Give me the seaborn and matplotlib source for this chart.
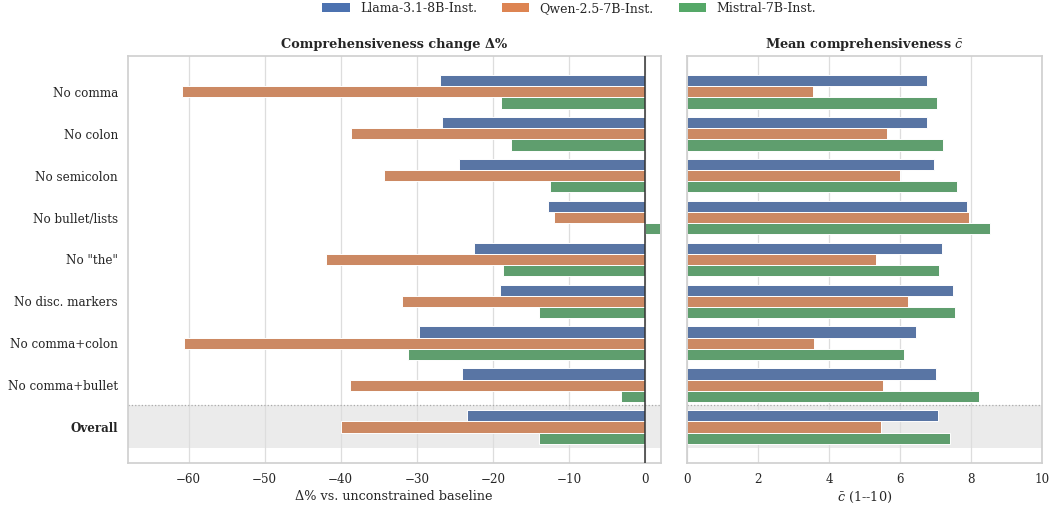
import numpy as np
import pandas as pd
import matplotlib
matplotlib.use("Agg")
import matplotlib.pyplot as plt
from matplotlib.patches import Patch
import seaborn as sns

categories = ["No comma", "No colon", "No semicolon", "No bullet/lists", 'No "the"',
              "No disc. markers", "No comma+colon", "No comma+bullet", "Overall"]
models = ["Llama-3.1-8B-Inst.", "Qwen-2.5-7B-Inst.", "Mistral-7B-Inst."]

delta_llama = [-26.9, -26.7, -24.4, -12.8, -22.5, -19.1, -29.7, -24.1, -23.4]
delta_qwen = [-60.8, -38.6, -34.3, -12.0, -42.0, -31.9, -60.6, -38.8, -39.9]
delta_mistral = [-18.9, -17.6, -12.5, 2.0, -18.7, -14.0, -31.1, -3.1, -14.0]

mean_llama = [6.74, 6.74, 6.95, 7.88, 7.17, 7.48, 6.45, 7.02, 7.05]
mean_qwen = [3.54, 5.62, 5.99, 7.95, 5.31, 6.21, 3.56, 5.51, 5.46]
mean_mistral = [7.03, 7.20, 7.59, 8.54, 7.09, 7.54, 6.10, 8.23, 7.40]

delta_ticks = [-60, -50, -40, -30, -20, -10, 0]
mean_ticks = [0, 2, 4, 6, 8, 10]

rows = []
for m, d, c in zip(models, [delta_llama, delta_qwen, delta_mistral],
                   [mean_llama, mean_qwen, mean_mistral]):
    for cat, dv, cv in zip(categories, d, c):
        rows.append({"constraint": cat, "model": m, "delta": dv, "mean": cv})
df = pd.DataFrame(rows)

sns.set_theme(style="whitegrid")
plt.rcParams["font.family"] = ["DejaVu Serif"]
plt.rcParams["mathtext.fontset"] = "dejavuserif"

palette = sns.color_palette("deep", 3)

fig = plt.figure(figsize=(10.5, 5.08), dpi=100)
ax1 = fig.add_axes([0.1216, 0.0886, 0.5076, 0.8014])
ax2 = fig.add_axes([0.6543, 0.0886, 0.3384, 0.8014])

for ax, col in [(ax1, "delta"), (ax2, "mean")]:
    ax.axhspan(7.48, 8.5, color="#ebebeb", zorder=0, lw=0)
    sns.barplot(data=df, y="constraint", x=col, hue="model", order=categories,
                hue_order=models, palette=palette, orient="h", ax=ax,
                legend=False, width=0.8, edgecolor="white", linewidth=0.7,
                errorbar=None)
    ax.axhline(7.48, color="#aaaaaa", ls=":", lw=0.9, zorder=1)
    ax.set_ylim(8.86, -0.86)
    ax.grid(axis="y", visible=False)
    ax.grid(axis="x", color="#dddddd", lw=0.9)
    ax.set_axisbelow(True)
    ax.set_ylabel("")
    for s in ax.spines.values():
        s.set_color("#d0d0d0")
    ax.tick_params(axis="both", labelsize=8.6, colors="#262626", length=0, pad=7)

ax1.axvline(0, color="#333333", lw=1.1, zorder=3)
ax1.set_xlim(-68.0, 2.05)
ax1.set_xticks(delta_ticks)
ax1.set_xticklabels(["\u2212" + str(abs(t)) if t < 0 else str(t) for t in delta_ticks])
ax1.set_xlabel("\u0394% vs. unconstrained baseline", fontsize=9.2, color="#262626", labelpad=3)
ax1.set_title("Comprehensiveness change \u0394%", fontsize=9.3, fontweight="bold", pad=6)
for lab in ax1.get_yticklabels():
    if lab.get_text() == "Overall":
        lab.set_fontweight("bold")

ax2.set_xlim(0, 10)
ax2.set_xticks(mean_ticks)
ax2.set_yticklabels([])
ax2.set_xlabel(r"$\bar{c}$ (1--10)", fontsize=9.2, color="#262626", labelpad=3)
ax2.set_title(r"Mean comprehensiveness $\bar{c}$", fontsize=9.3, fontweight="bold", pad=6)

handles = [Patch(facecolor=palette[i], edgecolor="none", label=models[i]) for i in range(3)]
fig.legend(handles=handles, loc="upper center", bbox_to_anchor=(0.542, 1.018), ncol=3,
           frameon=False, fontsize=9.0, handlelength=2.2, handleheight=0.75,
           handletextpad=0.8, columnspacing=2.0)

fig.savefig("out.png", dpi=100)
